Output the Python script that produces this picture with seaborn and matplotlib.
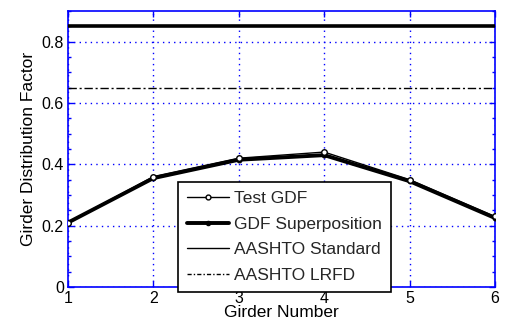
import matplotlib
matplotlib.use("Agg")
import matplotlib.pyplot as plt
from matplotlib.lines import Line2D
from matplotlib.ticker import MultipleLocator
import pandas as pd
import seaborn as sns

# Girder distribution factors per girder
girders = [1, 2, 3, 4, 5, 6]
test_gdf = [0.21, 0.36, 0.42, 0.44, 0.35, 0.23]
gdf_superposition = [0.21, 0.355, 0.415, 0.43, 0.345, 0.225]
aashto_standard = 0.85
aashto_lrfd = 0.65

x_ticks = [1, 2, 3, 4, 5, 6]
y_ticks = [0, 0.2, 0.4, 0.6, 0.8]
y_tick_labels = ["0", "0.2", "0.4", "0.6", "0.8"]

sns.set_theme(style="white")
plt.rcParams["font.family"] = ["Liberation Sans", "DejaVu Sans"]

df = pd.DataFrame({"Girder": girders, "Test": test_gdf, "Super": gdf_superposition})

fig = plt.figure(figsize=(5.07, 3.29), dpi=100)
ax = fig.add_axes([68 / 507, 1 - 287 / 329, 427 / 507, 276 / 329])

# Code-based reference levels
ax.axhline(aashto_standard, color="black", lw=2.6, zorder=3)
ax.axhline(aashto_lrfd, color="black", lw=1.0, ls=(0, (6, 2, 1.5, 2)), zorder=3)

# Measured and superposed distribution factors
sns.lineplot(data=df, x="Girder", y="Super", ax=ax, color="black", lw=2.8,
             marker="o", markersize=3.5, markeredgecolor="black", zorder=4)
sns.lineplot(data=df, x="Girder", y="Test", ax=ax, color="black", lw=1.0,
             marker="o", markersize=4, markerfacecolor="white",
             markeredgecolor="black", markeredgewidth=1.0, zorder=5)

ax.set_xlim(1, 6)
ax.set_ylim(0, 0.9)
ax.set_xticks(x_ticks)
ax.set_yticks(y_ticks)
ax.set_yticklabels(y_tick_labels)
ax.yaxis.set_minor_locator(MultipleLocator(0.05))

blue = "#0000ff"
for s in ax.spines.values():
    s.set_color(blue)
    s.set_linewidth(1.2)
ax.grid(True, which="major", color=blue, ls=(0, (1, 3)), lw=1.0)
ax.tick_params(which="both", direction="in", colors=blue, labelcolor="black",
               top=True, right=True, left=True, bottom=True, labelsize=11.5, pad=3)
ax.tick_params(which="major", length=4, width=1.0)
ax.tick_params(which="minor", length=2.5, width=1.0)

ax.set_xlabel("Girder Number", fontsize=12.5, color="black", labelpad=-1)
ax.set_ylabel("Girder Distribution Factor", fontsize=12.5, color="black", labelpad=4)

handles = [
    Line2D([], [], color="black", lw=1.0, marker="o", markersize=3.5,
           markerfacecolor="white", markeredgecolor="black"),
    Line2D([], [], color="black", lw=2.8, marker="o", markersize=3,
           markerfacecolor="black"),
    Line2D([], [], color="black", lw=1.0),
    Line2D([], [], color="black", lw=1.0, ls=(0, (3, 1.5, 1, 1.5))),
]
labels = ["Test GDF", "GDF Superposition", "AASHTO Standard", "AASHTO LRFD"]
leg = ax.legend(handles, labels, loc="upper left", bbox_to_anchor=(0.258, 0.38),
                fontsize=12.5, frameon=True, fancybox=False, framealpha=1,
                edgecolor="black", handlelength=2.4, handletextpad=0.3,
                labelspacing=0.6, borderpad=0.52, borderaxespad=0)
leg.get_frame().set_linewidth(1.2)
leg.set_zorder(10)

fig.savefig("out.png", dpi=100, facecolor="white")
